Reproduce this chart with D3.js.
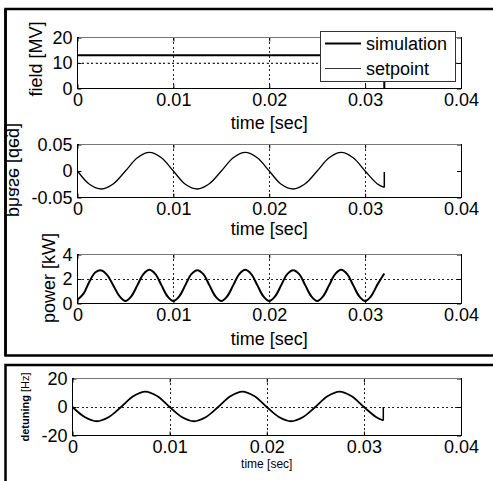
<!DOCTYPE html>
<head>
  <script src="https://cdnjs.cloudflare.com/ajax/libs/d3/7.8.5/d3.min.js"></script>
</head>
<style>
  body { margin: 0; background: #fff; }
  svg text { font-family: "Liberation Sans", Arial, sans-serif; fill: #000; }
  .frame { fill: none; stroke: #000; stroke-width: 1; shape-rendering: crispEdges; }
  .edge { stroke: #777; stroke-width: 1; shape-rendering: crispEdges; }
  .grid { stroke: #222; stroke-width: 1; stroke-dasharray: 2,2.5; shape-rendering: crispEdges; }
  .box { fill: none; stroke: #000; stroke-width: 2.5; }
</style>
<body>
<script>
// x ticks shared by all panels
var xTicks = [0, 0.01, 0.02, 0.03, 0.04];
var xTickLabels = ["0", "0.01", "0.02", "0.03", "0.04"];

// field [MV]
var fieldTime = [0, 0.032, 0.032];
var fieldSim = [13, 13, 0];
var setpointTime = [0, 0.04];
var setpointVal = [10, 10];
var fieldTicks = [0, 10, 20];
var fieldTickLabels = ["0", "10", "20"];

// phase [deg], sampled every 1.25 ms
var phaseTime = [0, 0.00125, 0.0025, 0.00375, 0.005, 0.00625, 0.0075, 0.00875,
  0.01, 0.01125, 0.0125, 0.01375, 0.015, 0.01625, 0.0175, 0.01875,
  0.02, 0.02125, 0.0225, 0.02375, 0.025, 0.02625, 0.0275, 0.02875,
  0.03, 0.03125, 0.032];
var phaseVal = [0, -0.025, -0.034, -0.024, 0, 0.025, 0.035, 0.025,
  0, -0.025, -0.034, -0.024, 0, 0.025, 0.035, 0.025,
  0, -0.025, -0.034, -0.024, 0, 0.025, 0.035, 0.025,
  0, -0.024, -0.031];
var phaseJump = [-0.031, -0.002];
var phaseTicks = [-0.05, 0, 0.05];
var phaseTickLabels = ["-0.05", "0", "0.05"];

// power [kW], sampled every 0.625 ms
var powerTime = [0, 0.000625, 0.00125, 0.001875, 0.0025, 0.003125, 0.00375, 0.004375,
  0.005, 0.005625, 0.00625, 0.006875, 0.0075, 0.008125, 0.00875, 0.009375,
  0.01, 0.010625, 0.01125, 0.011875, 0.0125, 0.013125, 0.01375, 0.014375,
  0.015, 0.015625, 0.01625, 0.016875, 0.0175, 0.018125, 0.01875, 0.019375,
  0.02, 0.020625, 0.02125, 0.021875, 0.0225, 0.023125, 0.02375, 0.024375,
  0.025, 0.025625, 0.02625, 0.026875, 0.0275, 0.028125, 0.02875, 0.029375,
  0.03, 0.030625, 0.03125, 0.032];
var powerVal = [0.3, 0.8, 1.8, 2.55, 2.7, 2.3, 1.45, 0.6,
  0.2, 0.6, 1.5, 2.4, 2.75, 2.4, 1.5, 0.6,
  0.2, 0.6, 1.5, 2.4, 2.72, 2.4, 1.5, 0.6,
  0.2, 0.6, 1.5, 2.4, 2.75, 2.4, 1.5, 0.6,
  0.2, 0.6, 1.5, 2.4, 2.72, 2.4, 1.5, 0.6,
  0.2, 0.6, 1.5, 2.4, 2.75, 2.4, 1.5, 0.6,
  0.2, 0.6, 1.5, 2.45];
var powerTicks = [0, 2, 4];
var powerTickLabels = ["0", "2", "4"];

// detuning [Hz]
var detuneTime = phaseTime;
var detuneVal = [0, -7, -10, -7, 0, 7.5, 10.8, 7.5,
  0, -7, -10, -7, 0, 7.5, 10.8, 7.5,
  0, -7, -10, -7, 0, 7.5, 10.8, 7.5,
  0, -7, -9.5];
var detuneJump = [-9.5, 0];
var detuneTicks = [-20, 0, 20];
var detuneTickLabels = ["-20", "0", "20"];

var W = 493, H = 481;
var svg = d3.select("body").append("svg")
    .attr("width", W)
    .attr("height", H);

// outer figure boxes
svg.append("rect").attr("class", "box")
    .attr("x", 5.5).attr("y", 9).attr("width", 600).attr("height", 346.5);
svg.append("rect").attr("class", "box")
    .attr("x", 5.5).attr("y", 365).attr("width", 600).attr("height", 200);

function zip(xs, ys) { return xs.map(function(t, i) { return [t, ys[i]]; }); }

function panel(p) {
  var x = d3.scaleLinear().domain([0, 0.04]).range([p.left, p.right]);
  var y = d3.scaleLinear().domain(p.ydomain).range([p.bottom, p.top]);
  var g = svg.append("g");

  // grid
  g.selectAll(".gx").data(xTicks.slice(1, -1)).enter().append("line")
      .attr("class", "grid")
      .attr("x1", function(d) { return Math.round(x(d)) + 0.5; })
      .attr("x2", function(d) { return Math.round(x(d)) + 0.5; })
      .attr("y1", p.top).attr("y2", p.bottom);
  g.selectAll(".gy").data(p.grid).enter().append("line")
      .attr("class", "grid")
      .attr("y1", function(d) { return Math.round(y(d)) + 0.5; })
      .attr("y2", function(d) { return Math.round(y(d)) + 0.5; })
      .attr("x1", p.left).attr("x2", p.right);

  // axes with inward ticks
  var fs = 18;
  var bx = g.append("g").attr("transform", "translate(0," + p.bottom + ")")
      .call(d3.axisBottom(x).tickValues(xTicks)
        .tickFormat(function(d, i) { return xTickLabels[i]; })
        .tickSizeInner(-4).tickSizeOuter(0).tickPadding(5));
  var lx = g.append("g").attr("transform", "translate(" + p.left + ",0)")
      .call(d3.axisLeft(y).tickValues(p.yticks)
        .tickFormat(function(d, i) { return p.ylabels[i]; })
        .tickSizeInner(-4).tickSizeOuter(0).tickPadding(5));
  var tx = g.append("g").attr("transform", "translate(0," + p.top + ")")
      .call(d3.axisTop(x).tickValues(xTicks).tickFormat("")
        .tickSizeInner(-4).tickSizeOuter(0));
  var rx = g.append("g").attr("transform", "translate(" + p.right + ",0)")
      .call(d3.axisRight(y).tickValues(p.yticks).tickFormat("")
        .tickSizeInner(-4).tickSizeOuter(0));
  [bx, lx, tx, rx].forEach(function(a) {
    a.select(".domain").remove();
    a.attr("font-family", null).attr("font-size", fs);
    a.selectAll("line").attr("stroke", "#000");
  });

  // frame: left/bottom black, top/right grey
  g.append("rect").attr("class", "frame")
      .attr("x", p.left).attr("y", p.top)
      .attr("width", p.right - p.left).attr("height", p.bottom - p.top);
  g.append("line").attr("class", "edge")
      .attr("x1", p.left + 1).attr("x2", p.right).attr("y1", p.top).attr("y2", p.top);

  var line = d3.line().x(function(d) { return x(d[0]); }).y(function(d) { return y(d[1]); });
  p.series.forEach(function(s) {
    g.append("path")
        .datum(s.data)
        .attr("fill", "none")
        .attr("stroke", s.color || "#000")
        .attr("stroke-width", s.width)
        .attr("stroke-dasharray", s.dash || null)
        .attr("d", line.curve(s.curve || d3.curveLinear));
  });
  return {x: x, y: y, g: g};
}

var xL = 77.5, xR = 461;

// field
var p1 = panel({left: xL, right: xR, top: 37.5, bottom: 88.5,
  ydomain: [0, 20], yticks: fieldTicks, ylabels: fieldTickLabels, grid: [10],
  series: [
    {data: zip(setpointTime, setpointVal), width: 0.7, color: "#333", dash: "2,2.5"},
    {data: zip(fieldTime, fieldSim), width: 2}
  ]});

// phase
var p2 = panel({left: xL, right: xR, top: 144.5, bottom: 197.5,
  ydomain: [-0.05, 0.05], yticks: phaseTicks, ylabels: phaseTickLabels, grid: [],
  series: [
    {data: zip(phaseTime, phaseVal), width: 1.3, curve: d3.curveCatmullRom},
    {data: [[0.032, phaseJump[0]], [0.032, phaseJump[1]]], width: 1.5}
  ]});

// power
var p3 = panel({left: xL, right: xR, top: 254.5, bottom: 303.5,
  ydomain: [0, 4], yticks: powerTicks, ylabels: powerTickLabels, grid: [2],
  series: [
    {data: zip(powerTime, powerVal), width: 2, curve: d3.curveCatmullRom}
  ]});

// detuning
var p4 = panel({left: 72.5, right: xR, top: 378.5, bottom: 435.5,
  ydomain: [-20, 20], yticks: detuneTicks, ylabels: detuneTickLabels, grid: [0],
  series: [
    {data: zip(detuneTime, detuneVal), width: 1.8, curve: d3.curveCatmullRom},
    {data: [[0.032, detuneJump[0]], [0.032, detuneJump[1]]], width: 1.5}
  ]});

// x axis titles
[[p1, 129], [p2, 235], [p3, 345]].forEach(function(a) {
  svg.append("text")
      .attr("x", (xL + xR) / 2).attr("y", a[1])
      .attr("text-anchor", "middle").attr("font-size", 18)
      .text("time [sec]");
});
svg.append("text")
    .attr("x", (72.5 + xR) / 2).attr("y", 468)
    .attr("text-anchor", "middle").attr("font-size", 12)
    .text("time [sec]");

// y axis titles
svg.append("text")
    .attr("transform", "translate(42,59) rotate(-90)")
    .attr("text-anchor", "middle").attr("font-size", 18)
    .text("field  [MV]");
svg.append("text")
    .attr("transform", "translate(9,170) rotate(-90) scale(1,-1)")
    .attr("text-anchor", "middle").attr("font-size", 18)
    .text("phase  [deg]");
svg.append("text")
    .attr("transform", "translate(55,278) rotate(-90)")
    .attr("text-anchor", "middle").attr("font-size", 18)
    .text("power [kW]");
var dl = svg.append("text")
    .attr("transform", "translate(28.5,407) rotate(-90)")
    .attr("text-anchor", "middle").attr("font-size", 11);
dl.append("tspan").attr("font-weight", "bold").text("detuning");
dl.append("tspan").text("  [Hz]");

// redraw left figure edge over the mirrored label
svg.append("line").attr("x1", 5.5).attr("x2", 5.5).attr("y1", 9).attr("y2", 355.5)
    .attr("stroke", "#000").attr("stroke-width", 2.5);

// legend
var lg = svg.append("g");
lg.append("rect")
    .attr("x", 320.5).attr("y", 31.5).attr("width", 135).attr("height", 50)
    .attr("fill", "#fff").attr("stroke", "#333").attr("stroke-width", 1);
var legendItems = ["simulation", "setpoint"];
var legendWidths = [2, 0.8];
legendItems.forEach(function(name, i) {
  var yy = 43.5 + i * 25;
  lg.append("line").attr("x1", 325).attr("x2", 361).attr("y1", yy).attr("y2", yy)
      .attr("stroke", "#000").attr("stroke-width", legendWidths[i]);
  lg.append("text").attr("x", 366).attr("y", yy + 6).attr("font-size", 18).text(name);
});
</script>
</body>
